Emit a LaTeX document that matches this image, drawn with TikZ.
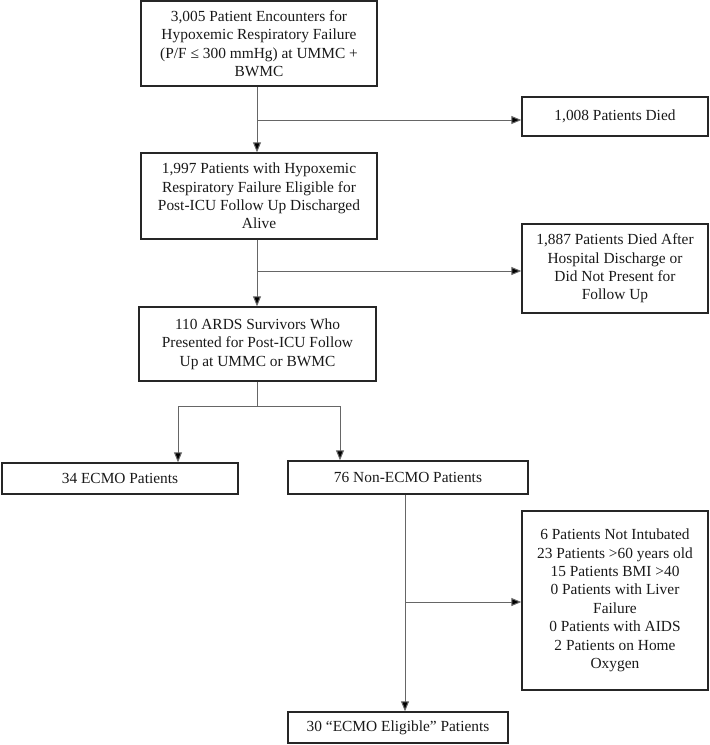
\documentclass[tikz,border=0pt]{standalone}
\usepackage{fontspec}
\setmainfont{Liberation Serif}
\usetikzlibrary{arrows.meta}
\begin{document}
\begin{tikzpicture}[x=1pt,y=1pt,
  box/.style={draw=black!85, line width=1.4pt, align=center, inner sep=0pt,
    font=\fontsize{15.4}{18.4}\selectfont, text=black!90},
  conn/.style={draw=black!60, line width=1pt},
  arr/.style={conn, -{Triangle[length=10pt,width=8pt,fill=black]}}]
\useasboundingbox (0,0) rectangle (710,-745);
\node[box, minimum width=236pt, minimum height=85pt] (b1) at (259,-43.5)
  {3,005 Patient Encounters for\\Hypoxemic Respiratory Failure\\(P/F ≤ 300 mmHg) at UMMC +\\BWMC};
\node[box, minimum width=186pt, minimum height=39pt] (d1) at (615,-116.5)
  {1,008 Patients Died};
\node[box, minimum width=236pt, minimum height=86pt] (b2) at (259,-196)
  {1,997 Patients with Hypoxemic\\Respiratory Failure Eligible for\\Post-ICU Follow Up Discharged\\Alive};
\node[box, minimum width=186pt, minimum height=89pt] (d2) at (615,-268.5)
  {1,887 Patients Died After\\Hospital Discharge or\\Did Not Present for\\Follow Up};
\node[box, minimum width=237pt, minimum height=74pt] (b3) at (257.5,-344)
  {110 ARDS Survivors Who\\Presented for Post-ICU Follow\\Up at UMMC or BWMC};
\node[box, minimum width=236pt, minimum height=31pt] (ecmo) at (120,-478.5)
  {34 ECMO Patients};
\node[box, minimum width=240pt, minimum height=33pt] (non) at (408,-477.5)
  {76 Non-ECMO Patients};
\node[box, minimum width=186pt, minimum height=179pt] (ex) at (615,-600.5)
  {6 Patients Not Intubated\\23 Patients >60 years old\\15 Patients BMI >40\\0 Patients with Liver\\Failure\\0 Patients with AIDS\\2 Patients on Home\\Oxygen};
\node[box, minimum width=220pt, minimum height=31pt] (fin) at (398,-727.5)
  {30 “ECMO Eligible” Patients};
% junctions
\coordinate (j1) at (257,-120);
\coordinate (j2) at (257,-271);
\coordinate (j3) at (257,-406);
\coordinate (jl) at (178,-406);
\coordinate (jr) at (340,-406);
\coordinate (j4) at (405,-602);
% connectors
\draw[arr] (b1.south -| j1) -- (b2.north -| j1);
\draw[arr] (j1) -- (j1 -| d1.west);
\draw[arr] (b2.south -| j2) -- (b3.north -| j2);
\draw[arr] (j2) -- (j2 -| d2.west);
\draw[conn] (b3.south -| j3) -- (j3);
\draw[conn] (jl) -- (jr);
\draw[arr] (jl) -- (ecmo.north -| jl);
\draw[arr] (jr) -- (non.north -| jr);
\draw[arr] (non.south -| j4) -- (fin.north -| j4);
\draw[arr] (j4) -- (j4 -| ex.west);
\end{tikzpicture}
\end{document}
